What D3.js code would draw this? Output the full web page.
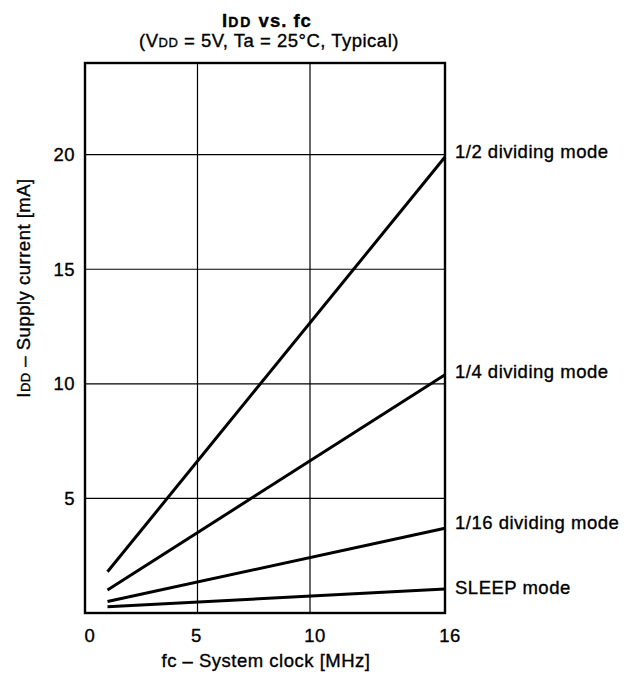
<!DOCTYPE html>
<html><head><meta charset="utf-8">
<script src="https://cdn.jsdelivr.net/npm/d3@7"></script>
<style>body{margin:0;background:#fff}svg{display:block}text{font-family:"Liberation Sans",Arial,sans-serif;fill:#000;stroke:#000;stroke-width:0.35px;letter-spacing:0.5px}</style>
</head><body><svg id="c" width="624" height="674"></svg>
<script>
const fcMHz = [1, 16];
const sleepMode = [0.27, 1.05];
const div16 = [0.5, 3.7];
const div4 = [1.0, 10.4];
const div2 = [1.8, 19.9];
const seriesNames = ["1/2 dividing mode", "1/4 dividing mode", "1/16 dividing mode", "SLEEP mode"];
const xTicks = [0, 5, 10, 16];
const yTicks = [5, 10, 15, 20];

const svg = d3.select("#c");
const L = 85, R = 445, T = 63, B = 613;
const x = d3.scaleLinear().domain([0, 16]).range([L, R]);
const y = d3.scaleLinear().domain([0, 24]).range([B, T]);
const FS = 18.5;

// grid
svg.append("g").selectAll("line").data(yTicks).join("line")
  .attr("x1", L).attr("x2", R).attr("y1", d => y(d)).attr("y2", d => y(d))
  .attr("stroke", "#000").attr("stroke-width", 1.2);
svg.append("g").selectAll("line").data([5, 10]).join("line")
  .attr("y1", T).attr("y2", B).attr("x1", d => x(d)).attr("x2", d => x(d))
  .attr("stroke", "#000").attr("stroke-width", 1.2);
svg.append("rect").attr("x", L).attr("y", T).attr("width", R - L).attr("height", B - T)
  .attr("fill", "none").attr("stroke", "#000").attr("stroke-width", 2.4);

// tick labels
svg.append("g").selectAll("text").data(yTicks).join("text")
  .attr("x", 75).attr("y", d => y(d)).attr("dy", "0.36em").attr("text-anchor", "end")
  .attr("font-size", FS).text(d => d);
svg.append("g").selectAll("text").data(xTicks).join("text")
  .attr("x", d => x(d) + (d === 5 ? -1 : 5)).attr("y", 642).attr("text-anchor", "middle")
  .attr("font-size", FS).text(d => d);

// lines
const data = [div2, div4, div16, sleepMode];
const line = d3.line().x((d, i) => x(fcMHz[i])).y(d => y(d));
svg.append("g").selectAll("path").data(data).join("path")
  .attr("d", d => line(d)).attr("fill", "none").attr("stroke", "#000").attr("stroke-width", 3);

// series labels
const labelY = [151, 371, 522, 587];
svg.append("g").selectAll("text").data(seriesNames).join("text")
  .attr("x", 455).attr("y", (d, i) => labelY[i]).attr("dy", "0.36em")
  .attr("font-size", FS).text(d => d);

// title
const t = svg.append("text").attr("x", 267).attr("y", 27).attr("text-anchor", "middle")
  .attr("font-size", FS).attr("font-weight", "bold").style("letter-spacing", "1px");
t.append("tspan").text("I");
t.append("tspan").attr("font-size", 14).style("letter-spacing", "2px").text("DD");
t.append("tspan").text(" vs. fc");
const st = svg.append("text").attr("x", 269).attr("y", 47).attr("text-anchor", "middle").attr("font-size", FS);
st.append("tspan").text("(V");
st.append("tspan").attr("font-size", 13).text("DD");
st.append("tspan").text(" = 5V, Ta = 25°C, Typical)");

// axis titles
svg.append("text").attr("x", 266).attr("y", 667).attr("text-anchor", "middle")
  .attr("font-size", FS).text("fc – System clock [MHz]");
const yl = svg.append("text").attr("transform", "translate(23,288) rotate(-90)").attr("dy", "0.36em")
  .attr("text-anchor", "middle").attr("font-size", FS);
yl.append("tspan").text("I");
yl.append("tspan").attr("font-size", 13).text("DD");
yl.append("tspan").text(" – Supply current [mA]");
</script></body></html>
